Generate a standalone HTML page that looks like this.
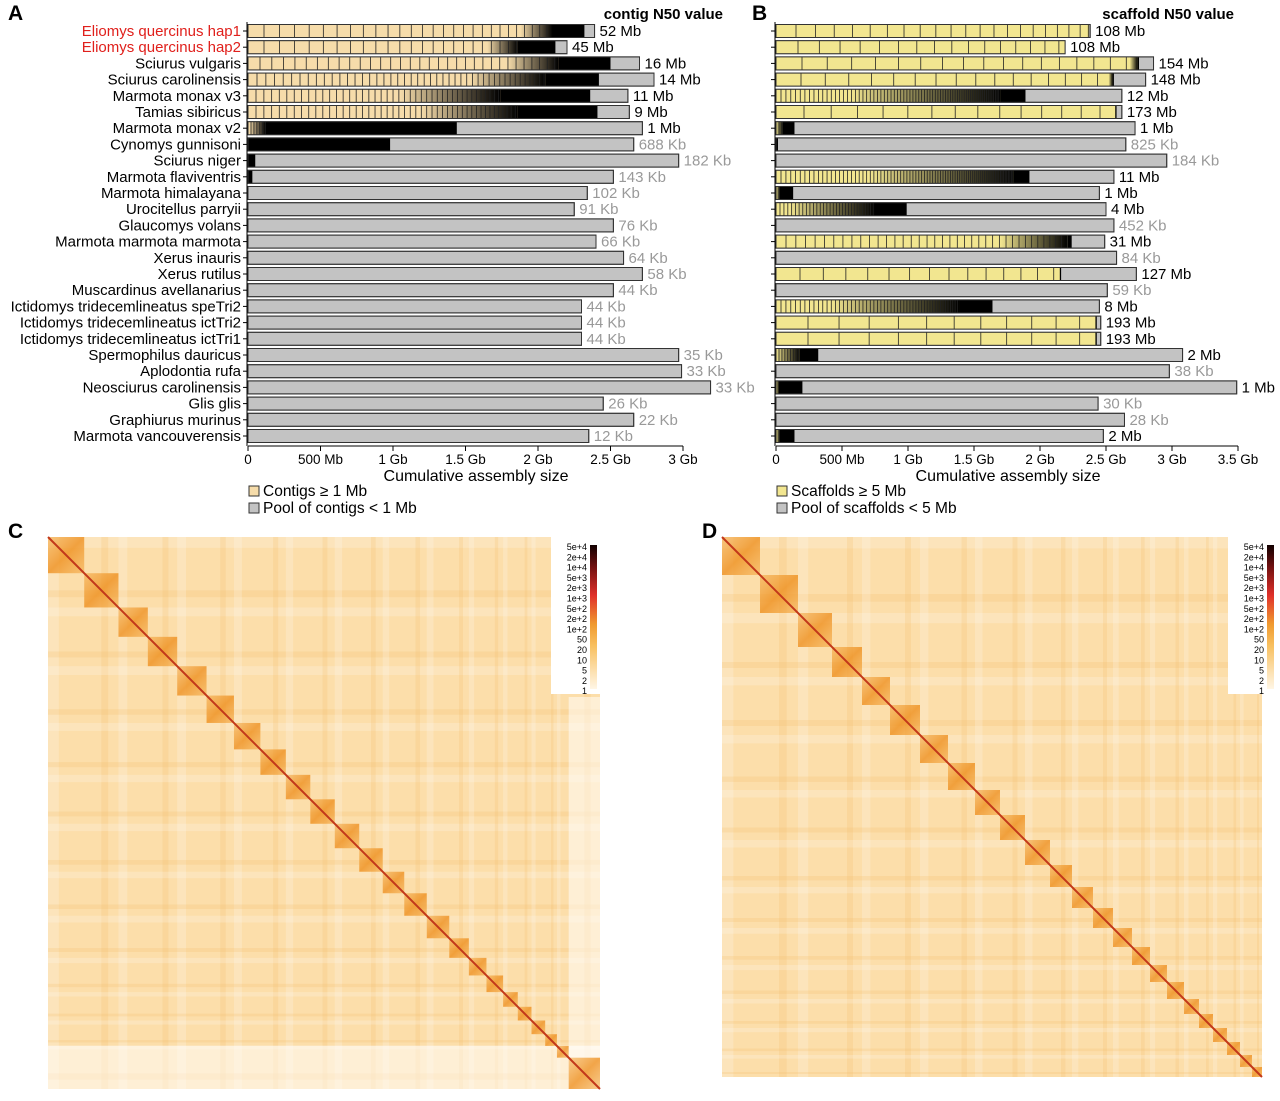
<!DOCTYPE html>
<html><head><meta charset="utf-8"><style>
html,body{margin:0;padding:0;background:#fff;}
svg{display:block;font-family:"Liberation Sans",sans-serif;}
</style></head><body>
<svg id="fig" width="1280" height="1101" viewBox="0 0 1280 1101" xmlns="http://www.w3.org/2000/svg">
<defs>
<linearGradient id="fadeTan" x1="0" x2="1" y1="0" y2="0"><stop offset="0" stop-color="#f6dcaa"/><stop offset="1" stop-color="#000"/></linearGradient>
<linearGradient id="fadeYel" x1="0" x2="1" y1="0" y2="0"><stop offset="0" stop-color="#f2e690"/><stop offset="1" stop-color="#000"/></linearGradient>
<linearGradient id="cbar" x1="0" x2="0" y1="1" y2="0"><stop offset="0" stop-color="#fff6e6"/><stop offset="0.3" stop-color="#f8c060"/><stop offset="0.45" stop-color="#f09a30"/><stop offset="0.65" stop-color="#e0302a"/><stop offset="0.85" stop-color="#701010"/><stop offset="1" stop-color="#100"/></linearGradient>
<linearGradient id="blk" x1="0" y1="0" x2="1" y2="1"><stop offset="0" stop-color="#f3a640" stop-opacity="0.55"/><stop offset="0.5" stop-color="#ee9020" stop-opacity="0.8"/><stop offset="1" stop-color="#f3a640" stop-opacity="0.55"/></linearGradient>
</defs>
<g id="panelA"></g>
<g id="panelB"></g>
<g id="panelC"></g>
<g id="panelD"></g>
</svg>
<script>
const species = ["Eliomys quercinus hap1","Eliomys quercinus hap2","Sciurus vulgaris","Sciurus carolinensis","Marmota monax v3","Tamias sibiricus","Marmota monax v2","Cynomys gunnisoni","Sciurus niger","Marmota flaviventris","Marmota himalayana","Urocitellus parryii","Glaucomys volans","Marmota marmota marmota","Xerus inauris","Xerus rutilus","Muscardinus avellanarius","Ictidomys tridecemlineatus speTri2","Ictidomys tridecemlineatus ictTri2","Ictidomys tridecemlineatus ictTri1","Spermophilus dauricus","Aplodontia rufa","Neosciurus carolinensis","Glis glis","Graphiurus murinus","Marmota vancouverensis"];
// Panel A (Gb)
const totalA = [2.39,2.20,2.70,2.80,2.62,2.63,2.72,2.66,2.97,2.52,2.34,2.25,2.52,2.40,2.59,2.72,2.52,2.30,2.30,2.30,2.97,2.99,3.19,2.45,2.66,2.35];
const gradStartA = [1.88,1.65,1.79,1.53,1.05,1.19,0.01,0,0,0,0,0,0,0,0,0,0,0,0,0,0,0,0,0,0,0];
const blackStartA = [2.10,1.86,2.14,2.05,1.74,1.86,0.12,0,0,0,0,0,0,0,0,0,0,0,0,0,0,0,0,0,0,0];
const blackEndA = [2.32,2.12,2.50,2.42,2.36,2.41,1.44,0.98,0.05,0.03,0,0,0,0,0,0,0,0,0,0,0,0,0,0,0,0];
const n50A = ["52 Mb","45 Mb","16 Mb","14 Mb","11 Mb","9 Mb","1 Mb","688 Kb","182 Kb","143 Kb","102 Kb","91 Kb","76 Kb","66 Kb","64 Kb","58 Kb","44 Kb","44 Kb","44 Kb","44 Kb","35 Kb","33 Kb","33 Kb","26 Kb","22 Kb","12 Kb"];
const bigA = [1,1,1,1,1,1,1,0,0,0,0,0,0,0,0,0,0,0,0,0,0,0,0,0,0,0];
const segA = [16,16,12,9,8,8,3,0,0,0,0,0,0,0,0,0,0,0,0,0,0,0,0,0,0,0];
const ticksA = [0,0.5,1,1.5,2,2.5,3];
const tickLabA = ["0","500 Mb","1 Gb","1.5 Gb","2 Gb","2.5 Gb","3 Gb"];
// Panel B (Gb)
const totalB = [2.38,2.19,2.86,2.80,2.62,2.62,2.72,2.65,2.96,2.56,2.45,2.50,2.56,2.49,2.58,2.73,2.51,2.45,2.46,2.46,3.08,2.98,3.49,2.44,2.64,2.48];
const gradStartB = [2.36,2.19,2.68,2.52,0.56,2.57,0,0,0,0.71,0,0.10,0,1.70,0,2.15,0,0.41,2.42,2.42,0,0,0,0,0,0];
const blackStartB = [2.37,2.19,2.74,2.55,1.70,2.57,0.05,0,0,1.80,0.03,0.75,0,2.21,0,2.15,0,1.39,2.42,2.42,0.18,0,0.02,0,0,0.03];
const blackEndB = [2.37,2.19,2.75,2.56,1.89,2.58,0.14,0.015,0,1.92,0.13,0.99,0,2.24,0,2.16,0,1.64,2.43,2.43,0.32,0,0.20,0,0,0.14];
const n50B = ["108 Mb","108 Mb","154 Mb","148 Mb","12 Mb","173 Mb","1 Mb","825 Kb","184 Kb","11 Mb","1 Mb","4 Mb","452 Kb","31 Mb","84 Kb","127 Mb","59 Kb","8 Mb","193 Mb","193 Mb","2 Mb","38 Kb","1 Mb","30 Kb","28 Kb","2 Mb"];
const bigB = [1,1,1,1,1,1,1,0,0,1,1,1,0,1,0,1,0,1,1,1,1,0,1,0,0,1];
const segB = [20,22,26,25,5,28,3,0,0,5,3,4,0,10,0,24,0,5,32,32,3,0,3,0,0,3];
const ticksB = [0,0.5,1,1.5,2,2.5,3,3.5];
const tickLabB = ["0","500 Mb","1 Gb","1.5 Gb","2 Gb","2.5 Gb","3 Gb","3.5 Gb"];
// Heatmaps: chromosome sizes (relative units)
const chromC = [37,35,30,30,30,28,27,26,25,25,25,24,22,23,23,20,18,17,15,14,14,12,12,32];
const chromD = [38,38,34,30,28,30,28,27,25,25,25,22,21,20,19,18,17,17,15,14,14,13,12,10];
const cbarLabels = ["5e+4","2e+4","1e+4","5e+3","2e+3","1e+3","5e+2","2e+2","1e+2","50","20","10","5","2","1"];

const NS="http://www.w3.org/2000/svg";
function mk(tag, attrs, parent){const e=document.createElementNS(NS,tag);for(const k in attrs)e.setAttribute(k,attrs[k]);parent.appendChild(e);return e;}
function txt(s, attrs, parent){const e=mk("text",attrs,parent);e.textContent=s;return e;}

function barPanel(g, cfg){
  const x0=cfg.x0, pxPerGb=cfg.pxPerGb;
  const X=v=>x0+v*pxPerGb;
  const rowY=i=>31+i*16.2;
  const h=13;
  txt(cfg.letter,{x:cfg.letterX,y:20,"font-size":21,"font-weight":"bold"},g);
  const title=txt(cfg.title,{x:cfg.titleX,y:19,"font-size":15,"font-weight":"bold","text-anchor":"end"},g);
  
  
  mk("line",{x1:x0-1,y1:22,x2:x0-1,y2:446,stroke:"#000","stroke-width":1},g);
  for(let i=0;i<cfg.total.length;i++){
    const y=rowY(i)-h/2;
    const bg=mk("g",{},g);
    
    
    mk("line",{x1:x0-5,y1:rowY(i),x2:x0-1,y2:rowY(i),stroke:"#000"},g);
    mk("rect",{x:X(0),y:y,width:X(cfg.total[i])-X(0),height:h,fill:"#c3c3c3",stroke:"#333","stroke-width":1},bg);
    const gs=cfg.gradStart[i], bs=cfg.blackStart[i], be=cfg.blackEnd[i];
    if(be>0) mk("rect",{x:X(0),y:y,width:X(be)-X(0),height:h,fill:"#000"},bg);
    if(bs>0) mk("rect",{x:X(0),y:y,width:X(bs)-X(0),height:h,fill:cfg.fill},bg);
    if(bs>gs) mk("rect",{x:X(gs),y:y,width:X(bs)-X(gs),height:h,fill:cfg.fade},bg);
    if(cfg.seg[i]>0 && bs>0){
      let pos=X(0), w=cfg.seg[i]; const end=X(gs), endB=X(bs);
      const shrink = cfg.seg[i]>12?0.97:0.985;
      while(pos<endB-1){
        pos+=w; if(pos>=endB)break;
        mk("line",{x1:pos,y1:y,x2:pos,y2:y+h,stroke:"#222","stroke-width":0.8},bg);
        w=Math.max(pos>end?1.2:2.5,w*shrink);
      }
    }
    mk("rect",{x:X(0),y:y,width:X(cfg.total[i])-X(0),height:h,fill:"none",stroke:"#333","stroke-width":1},bg);
    const lab=txt(cfg.n50[i],{x:X(cfg.total[i])+5,y:rowY(i)+5,"font-size":15,fill:cfg.big[i]?"#000":"#999"},g);
    
    
    if(cfg.names){
      const nm=txt(cfg.names[i],{x:241,y:rowY(i)+5,"font-size":15,"text-anchor":"end",fill:i<2?"#e0201c":"#000"},g);
      
      
    }
  }
  const ax=mk("g",{},g);
  
  
  mk("line",{x1:X(0),y1:446,x2:X(cfg.ticks[cfg.ticks.length-1]),y2:446,stroke:"#000"},ax);
  cfg.ticks.forEach((t,k)=>{
    mk("line",{x1:X(t),y1:446,x2:X(t),y2:451,stroke:"#000"},ax);
    txt(cfg.tickLab[k],{x:X(t),y:464,"font-size":13.5,"text-anchor":"middle"},ax);
  });
  const at=txt("Cumulative assembly size",{x:cfg.axTitleX,y:481,"font-size":16,"text-anchor":"middle"},g);
  
  
  const lg=mk("g",{},g);
  
  
  mk("rect",{x:X(0)+1,y:486,width:10,height:10,fill:cfg.fill,stroke:"#333"},lg);
  txt(cfg.leg1,{x:X(0)+15,y:496,"font-size":15.5},lg);
  mk("rect",{x:X(0)+1,y:503,width:10,height:10,fill:"#c3c3c3",stroke:"#333"},lg);
  txt(cfg.leg2,{x:X(0)+15,y:513,"font-size":15.5},lg);
}

barPanel(document.getElementById("panelA"),{x0:248,pxPerGb:145,letter:"A",letterX:8,title:"contig N50 value",titleX:723,
 total:totalA,gradStart:gradStartA,blackStart:blackStartA,blackEnd:blackEndA,n50:n50A,big:bigA,seg:segA,
 ticks:ticksA,tickLab:tickLabA,names:species,fill:"#f6dcaa",fade:"url(#fadeTan)",axTitleX:476,
 leg1:"Contigs ≥ 1 Mb",leg2:"Pool of contigs < 1 Mb"});
barPanel(document.getElementById("panelB"),{x0:776,pxPerGb:132,letter:"B",letterX:752,title:"scaffold N50 value",titleX:1234,
 total:totalB,gradStart:gradStartB,blackStart:blackStartB,blackEnd:blackEndB,n50:n50B,big:bigB,seg:segB,
 ticks:ticksB,tickLab:tickLabB,names:null,fill:"#f2e690",fade:"url(#fadeYel)",axTitleX:1008,
 leg1:"Scaffolds ≥ 5 Mb",leg2:"Pool of scaffolds < 5 Mb"});

function heatPanel(g, cfg){
  const {x0,y0,size,chrom}=cfg;
  txt(cfg.letter,{x:cfg.letterX,y:538,"font-size":21,"font-weight":"bold"},g);
  const hm=mk("g",{},g);
  
  
  mk("rect",{x:x0,y:y0,width:size,height:size,fill:"#fcdeaa"},hm);
  const tot=chrom.reduce((a,b)=>a+b,0);
  const S=v=>v/tot*size;
  let acc=0;
  chrom.forEach((c,i)=>{
    const p=S(acc), w=S(c);
    if(i%2===0){
      mk("rect",{x:x0+p,y:y0,width:w*0.3,height:size,fill:"#fff",opacity:0.2},hm);
      mk("rect",{x:x0,y:y0+p,width:size,height:w*0.3,fill:"#fff",opacity:0.2},hm);
    } else {
      mk("rect",{x:x0+p+w*0.5,y:y0,width:w*0.2,height:size,fill:"#f5c070",opacity:0.25},hm);
      mk("rect",{x:x0,y:y0+p+w*0.5,width:size,height:w*0.2,fill:"#f5c070",opacity:0.25},hm);
    }
    acc+=c;
  });
  if(cfg.lightEdge){
    mk("rect",{x:x0+size-S(chrom[chrom.length-1]),y:y0+160,width:S(chrom[chrom.length-1]),height:size-160,fill:"#fff",opacity:0.5},hm);
    mk("rect",{x:x0,y:y0+size-S(chrom[chrom.length-1])-12,width:size,height:S(chrom[chrom.length-1])+12,fill:"#fff",opacity:0.5},hm);
  }
  acc=0;
  chrom.forEach((c,i)=>{
    const b=mk("rect",{x:x0+S(acc),y:y0+S(acc),width:S(c),height:S(c),fill:"url(#blk)"},hm);
    
    
    acc+=c;
  });
  mk("line",{x1:x0,y1:y0,x2:x0+size,y2:y0+size,stroke:"#c2381a","stroke-width":2},hm);
  const cb=mk("g",{},g);
  
  
  const bx=cfg.cbX, by=y0;
  mk("rect",{x:bx,y:by,width:50,height:157,fill:"#fff"},cb);
  mk("rect",{x:bx+39,y:by+8,width:7,height:144,fill:"url(#cbar)"},cb);
  cbarLabels.forEach((l,k)=>{
    txt(l,{x:bx+36,y:by+13+k*10.3,"font-size":9,"text-anchor":"end"},cb);
  });
}
heatPanel(document.getElementById("panelC"),{x0:48,y0:537,size:552,chrom:chromC,letter:"C",letterX:8,cbX:551,lightEdge:true});
heatPanel(document.getElementById("panelD"),{x0:722,y0:537,size:540,chrom:chromD,letter:"D",letterX:702,cbX:1228,lightEdge:false});
</script>
</body></html>
